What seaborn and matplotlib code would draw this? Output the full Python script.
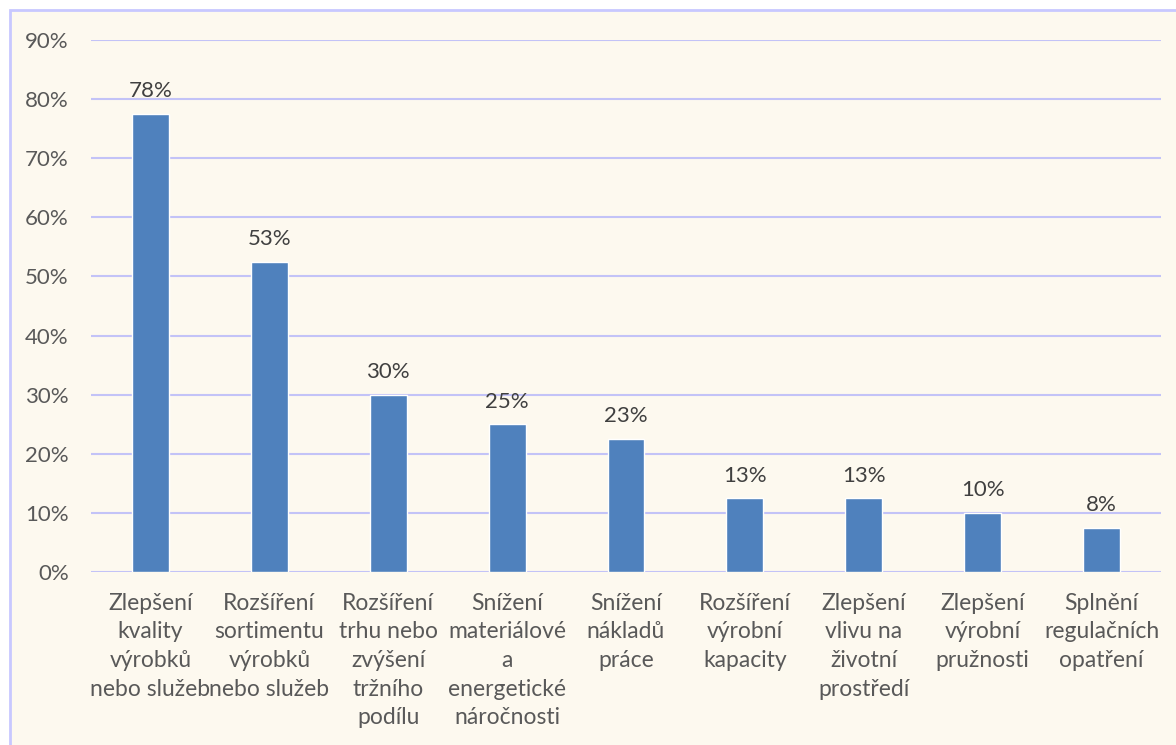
import matplotlib
matplotlib.use("Agg")
import matplotlib.pyplot as plt
import seaborn as sns
import pandas as pd
from matplotlib.patches import Rectangle
from matplotlib.ticker import PercentFormatter

# Data
categories = [
    "Zlepšení\nkvality\nvýrobků\nnebo služeb",
    "Rozšíření\nsortimentu\nvýrobků\nnebo služeb",
    "Rozšíření\ntrhu nebo\nzvýšení\ntržního\npodílu",
    "Snížení\nmateriálové\na\nenergetické\nnáročnosti",
    "Snížení\nnákladů\npráce",
    "Rozšíření\nvýrobní\nkapacity",
    "Zlepšení\nvlivu na\nživotní\nprostředí",
    "Zlepšení\nvýrobní\npružnosti",
    "Splnění\nregulačních\nopatření",
]
values = [77.5, 52.5, 30, 25, 22.5, 12.5, 12.5, 10, 7.5]
value_labels = ["78%", "53%", "30%", "25%", "23%", "13%", "13%", "10%", "8%"]
y_ticks = [0, 10, 20, 30, 40, 50, 60, 70, 80, 90]

df = pd.DataFrame({"cat": categories, "val": values})

sns.set_style("white")
plt.rcParams["font.family"] = ["Lato", "DejaVu Sans"]

text_col = "#595959"
grid_col = "#C3C3F7"
bg_col = "#FDF9EF"

fig = plt.figure(figsize=(11.76, 7.45), dpi=100)
fig.patch.set_facecolor("white")

# Chart area background with lavender border (only left/top visible)
fig.patches.append(Rectangle((10 / 1176, -0.05), 1.2, 1 - 10 / 745 + 0.05,
                             transform=fig.transFigure, facecolor=bg_col,
                             edgecolor="#C8C8FF", linewidth=2, zorder=-1))

ax = fig.add_axes([91 / 1176, 1 - 572 / 745, (1161 - 91) / 1176, (572 - 40) / 745])
ax.set_facecolor("none")

sns.barplot(data=df, x="cat", y="val", color="#4F81BD", width=0.31,
            saturation=1, ax=ax, zorder=3)

ax.bar_label(ax.containers[0], labels=value_labels, padding=9,
             fontsize=16, color="#404040")

ax.set_ylim(0, 90)
ax.set_xlim(-0.5, len(categories) - 0.5)
ax.set_yticks(y_ticks)
ax.yaxis.set_major_formatter(PercentFormatter(decimals=0))
ax.grid(axis="y", color=grid_col, linewidth=1.5, zorder=0)
ax.set_axisbelow(True)
for s in ax.spines.values():
    s.set_visible(False)

ax.tick_params(axis="y", length=0, pad=16, labelsize=16, labelcolor=text_col)
ax.tick_params(axis="x", length=0, pad=15, labelsize=16.5, labelcolor=text_col)
for lbl in ax.get_xticklabels():
    lbl.set_linespacing(1.45)
ax.set_xlabel("")
ax.set_ylabel("")

fig.savefig("out.png", dpi=100, facecolor=fig.get_facecolor())
